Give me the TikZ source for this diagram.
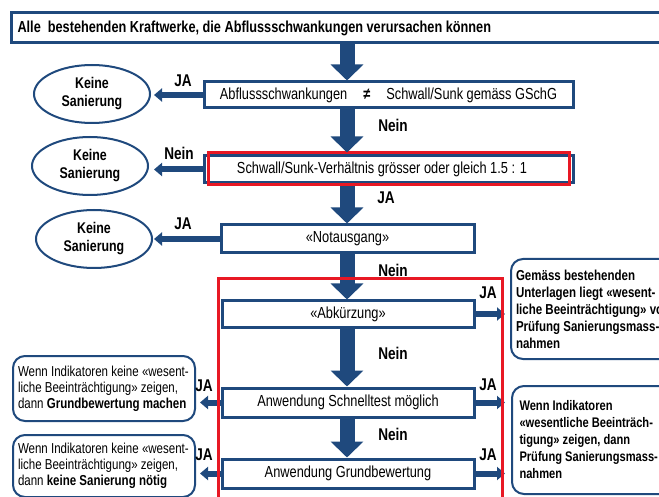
\documentclass[tikz,border=0pt]{standalone}
\usepackage{fontspec}
\setmainfont{Liberation Sans}[FakeStretch=0.8]
\usetikzlibrary{arrows.meta,shapes.geometric,calc}
\definecolor{dblue}{RGB}{31,73,125}
\definecolor{dred}{RGB}{232,24,36}
\newcommand{\nsp}{\spaceskip=0pt\xspaceskip=0pt\relax}
\begin{document}
\begin{tikzpicture}[x=1pt,y=-1pt,
  box/.style={draw=dblue, line width=3pt, fill=white, rectangle, inner sep=0pt, font=\fontsize{16}{18}\selectfont},
  ell/.style={draw=dblue, line width=2pt, fill=white, ellipse, inner sep=0pt, minimum width=116pt, minimum height=58pt, align=center, font=\fontsize{15.5}{18}\selectfont\bfseries},
  rbox/.style={draw=dblue, line width=2pt, fill=white, rectangle, rounded corners=12pt, inner xsep=3pt, inner ysep=0pt, align=left, anchor=north west},
  redbox/.style={draw=dred, line width=3pt, rectangle, inner sep=0pt},
  bigarrow/.style={draw=dblue, line width=15pt, -{Triangle[width=32pt,length=16pt]}},
  smallarrow/.style={draw=dblue, line width=6pt, -{Triangle[width=13pt,length=8pt]}},
  lbl/.style={font=\fontsize{17}{18}\selectfont\bfseries, inner sep=0pt}
]
\useasboundingbox (0,0) rectangle (659,497);
\clip (0,0) rectangle (659,497);

% top box
\node[box, anchor=west, minimum height=30pt, text width=680pt, inner xsep=6pt, align=left, font=\fontsize{15.9}{17}\selectfont\bfseries] (top) at (10,28) {\nsp Alle\ \ bestehenden Kraftwerke, die Abflussschwankungen verursachen können};

% main column boxes
\node[box, minimum width=369pt, minimum height=26pt] (b2) at (388.5,95) {Abflussschwankungen\hspace{16pt}{\bfseries ≠}\hspace{16pt}Schwall/Sunk gemäss GSchG};
\node[box, minimum width=369pt, minimum height=27pt] (b3) at (388.5,169.5) {};
\node[redbox, minimum width=361pt, minimum height=32pt] (b3r) at (388.5,169) {};
\node[inner sep=0pt, font=\fontsize{16}{18}\selectfont] (b3t) at (382,169) {Schwall/Sunk-Verhältnis grösser oder gleich 1.5 : 1};
\node[box, minimum width=253pt, minimum height=28pt] (b4) at (347.5,239) {«Notausgang»};
\node[box, minimum width=252pt, minimum height=26pt] (b5) at (348,314) {«Abkürzung»};
\node[box, minimum width=252pt, minimum height=29pt] (b6) at (348,402.5) {Anwendung Schnelltest möglich};
\node[box, minimum width=252pt, minimum height=29pt] (b7) at (348,473.5) {Anwendung Grundbewertung};

% ellipses
\node[ell] (e1) at (92,94) {Keine\\Sanierung};
\node[ell] (e2) at (90,166) {Keine\\Sanierung};
\node[ell] (e3) at (94,239) {Keine\\Sanierung};

% right boxes
\node[rbox, minimum width=200pt, minimum height=100pt, text width=190pt, font=\fontsize{14.4}{17}\selectfont\bfseries] (r1) at (510,258) {\nsp Gemäss bestehenden\\Unterlagen liegt «wesent-\\liche Beeinträchtigung» vor\\Prüfung Sanierungsmass-\\nahmen};
\node[rbox, minimum width=200pt, minimum height=108pt, text width=185pt, inner xsep=7pt, font=\fontsize{13.9}{17}\selectfont\bfseries] (r2) at (511,385) {\nsp Wenn Indikatoren\\«wesentliche Beeinträch-\\tigung» zeigen, dann\\Prüfung Sanierungsmass-\\nahmen};

% left boxes
\node[rbox, minimum width=179pt, minimum height=65pt, text width=172pt, inner xsep=5pt, font=\fontsize{14.4}{16}\selectfont] (lA) at (12,355) {\nsp Wenn Indikatoren keine «wesent-\\liche Beeinträchtigung» zeigen,\\dann {\bfseries Grundbewertung machen}};
\node[rbox, minimum width=179pt, minimum height=62pt, text width=172pt, inner xsep=5pt, font=\fontsize{14.4}{16}\selectfont] (lB) at (12,434) {\nsp Wenn Indikatoren keine «wesent-\\liche Beeinträchtigung» zeigen,\\dann {\bfseries keine Sanierung nötig}};

% vertical big arrows
\coordinate (ax) at (347,0);
\draw[bigarrow] (top.south -| ax) -- (b2.north -| ax);
\draw[bigarrow] (b2.south -| ax) -- ([yshift=-1pt]b3r.north -| ax);
\draw[bigarrow] (b3r.south -| ax) -- (b4.north -| ax);
\draw[bigarrow] (b4.south -| ax) -- (b5.north -| ax);
\draw[bigarrow] (b5.south -| ax) -- (b6.north -| ax);
\draw[bigarrow] (b6.south -| ax) -- (b7.north -| ax);

% left small arrows
\draw[smallarrow] (b2.west) -- ($(b2.west -| e1.east)+(3,0)$);
\draw[smallarrow] (b3.west) -- ($(b3.west -| e2.east)+(5,0)$);
\draw[smallarrow] (b4.west) -- ($(b4.west -| e3.east)+(1,0)$);
\draw[smallarrow] (b6.west) -- ($(b6.west -| lA.east)+(4,0)$);
\draw[smallarrow] (b7.west) -- ($(b7.west -| lB.east)+(4,0)$);

% right small arrows
\draw[smallarrow] (b5.east) -- ($(b5.east -| r1.west)+(-5,0)$);
\draw[smallarrow] (b6.east) -- ($(b6.east -| r2.west)+(-6,0)$);
\draw[smallarrow] (b7.east) -- ($(b7.east -| r2.west)+(-6,0)$);

% big red frame
\node[redbox, anchor=north west, minimum width=284pt, minimum height=240pt] (frame) at (217,277) {};

% labels
\node[lbl] (l1) at (183,81) {JA};
\node[lbl] (l2) at (179,153) {Nein};
\node[lbl] (l3) at (183,224) {JA};
\node[lbl] (l4) at (393,125) {Nein};
\node[lbl] (l5) at (386,198) {JA};
\node[lbl] (l6) at (393,270) {Nein};
\node[lbl] (l7) at (393,353) {Nein};
\node[lbl] (l8) at (393,434) {Nein};
\node[lbl] (l9) at (488,293) {JA};
\node[lbl] (l10) at (488,385) {JA};
\node[lbl] (l11) at (488,455) {JA};
\node[lbl] (l12) at (204,386) {JA};
\node[lbl] (l13) at (204,455) {JA};
\end{tikzpicture}
\end{document}
